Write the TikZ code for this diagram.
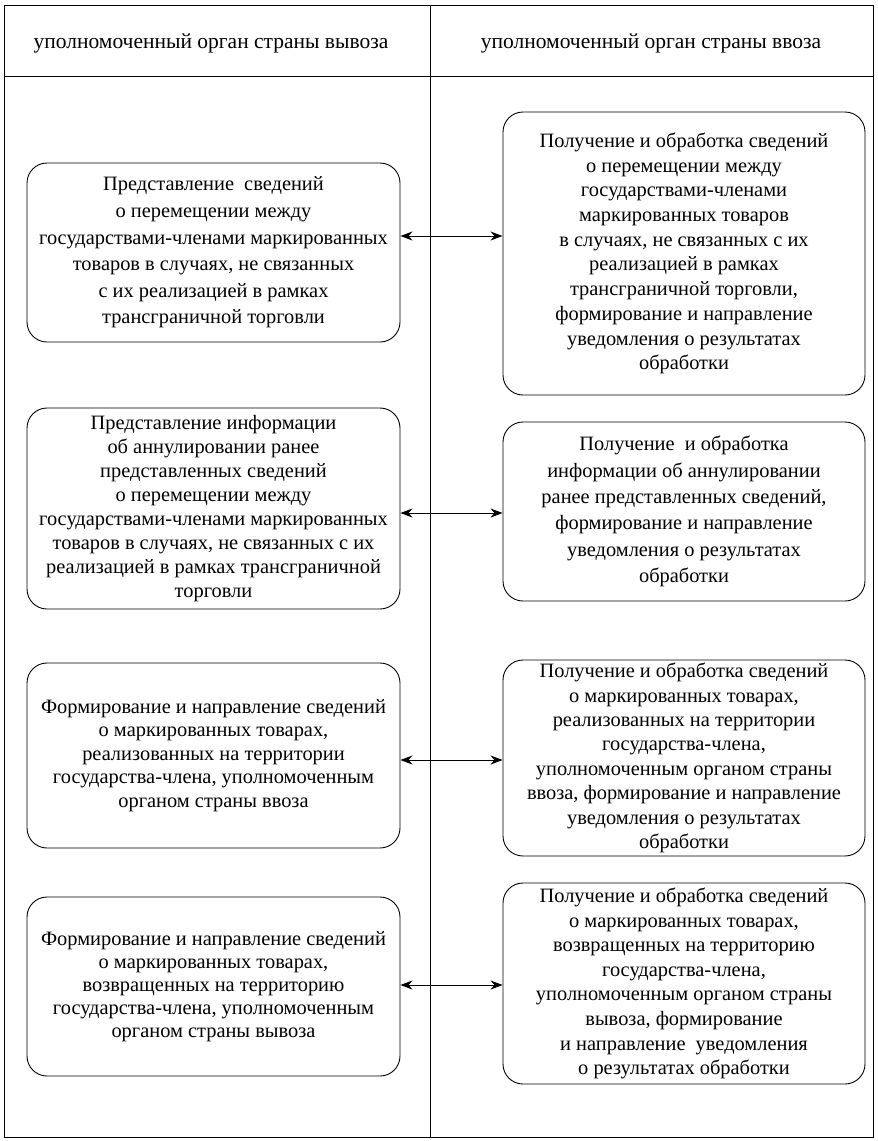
\documentclass[tikz,border=0pt]{standalone}
\usepackage{fontspec}
\setmainfont{Liberation Serif}
\usetikzlibrary{arrows.meta}
\tikzset{
  frame/.style={draw=black, line width=0.9pt},
  box/.style={draw=black, line width=0.9pt, rounded corners=20pt, align=center, inner sep=0pt},
  lsp/.style={font=\fontsize{20.4}{#1}\selectfont},
  lbox/.style={box, minimum width=373pt},
  rbox/.style={box, minimum width=362pt},
  hdr/.style={font=\fontsize{21.5}{24}\selectfont, inner sep=0pt},
  arr/.style={{Stealth[length=12pt,width=9pt]}-{Stealth[length=12pt,width=9pt]}, line width=0.9pt}
}
\begin{document}
\begin{tikzpicture}[x=1pt,y=-1pt]
\useasboundingbox (0,0) rectangle (878,1141);
% frame
\draw[frame] (4,5) rectangle (873,1137);
\draw[frame] (4,76) -- (873,76);
\draw[frame] (430,5) -- (430,1137);
% headers
\node[hdr] (h1) at (211,43) {уполномоченный орган страны вывоза};
\node[hdr] (h2) at (651,43) {уполномоченный орган страны ввоза};
% left boxes
\node[lbox, lsp=26.6, minimum height=179pt] (L1) at (213.5,252.5) {Представление\ \ сведений\\о перемещении между\\государствами-членами маркированных\\товаров в случаях, не связанных\\с их реализацией в рамках\\трансграничной торговли};
\node[lbox, lsp=24, minimum height=201pt] (L2) at (213.5,508.5) {Представление информации\\об аннулировании ранее\\представленных сведений\\о перемещении между\\государствами-членами маркированных\\товаров в случаях, не связанных с их\\реализацией в рамках трансграничной\\торговли};
\node[lbox, lsp=23.5, minimum height=185pt] (L3) at (213.5,755.5) {Формирование и направление сведений\\о маркированных товарах,\\реализованных на территории\\государства-члена, уполномоченным\\органом страны ввоза};
\node[lbox, lsp=23, minimum height=179pt] (L4) at (213.5,986.5) {Формирование и направление сведений\\о маркированных товарах,\\возвращенных на территорию\\государства-члена, уполномоченным\\органом страны вывоза};
% right boxes
\node[rbox, lsp=24.7, minimum height=283pt] (R1) at (684,253.5) {Получение и обработка сведений\\о перемещении между\\государствами-членами\\маркированных товаров\\в случаях, не связанных с их\\реализацией в рамках\\трансграничной торговли,\\формирование и направление\\уведомления о результатах\\обработки};
\node[rbox, lsp=26.4, minimum height=179pt] (R2) at (684,511.5) {Получение\ \ и обработка\\информации об аннулировании\\ранее представленных сведений,\\формирование и направление\\уведомления о результатах\\обработки};
\node[rbox, lsp=24.4, minimum height=196pt] (R3) at (684,758) {Получение и обработка сведений\\о маркированных товарах,\\реализованных на территории\\государства-члена,\\уполномоченным органом страны\\ввоза, формирование и направление\\уведомления о результатах\\обработки};
\node[rbox, lsp=24.6, minimum height=201pt] (R4) at (684,983.5) {Получение и обработка сведений\\о маркированных товарах,\\возвращенных на территорию\\государства-члена,\\уполномоченным органом страны\\вывоза, формирование\\и направление\ \ уведомления\\о результатах обработки};
% arrows
\coordinate (a1) at (0,236);
\coordinate (a2) at (0,513);
\coordinate (a3) at (0,760);
\coordinate (a4) at (0,985);
\draw[arr] (L1.east |- a1) -- (R1.west |- a1);
\draw[arr] (L2.east |- a2) -- (R2.west |- a2);
\draw[arr] (L3.east |- a3) -- (R3.west |- a3);
\draw[arr] (L4.east |- a4) -- (R4.west |- a4);
\end{tikzpicture}
\end{document}
